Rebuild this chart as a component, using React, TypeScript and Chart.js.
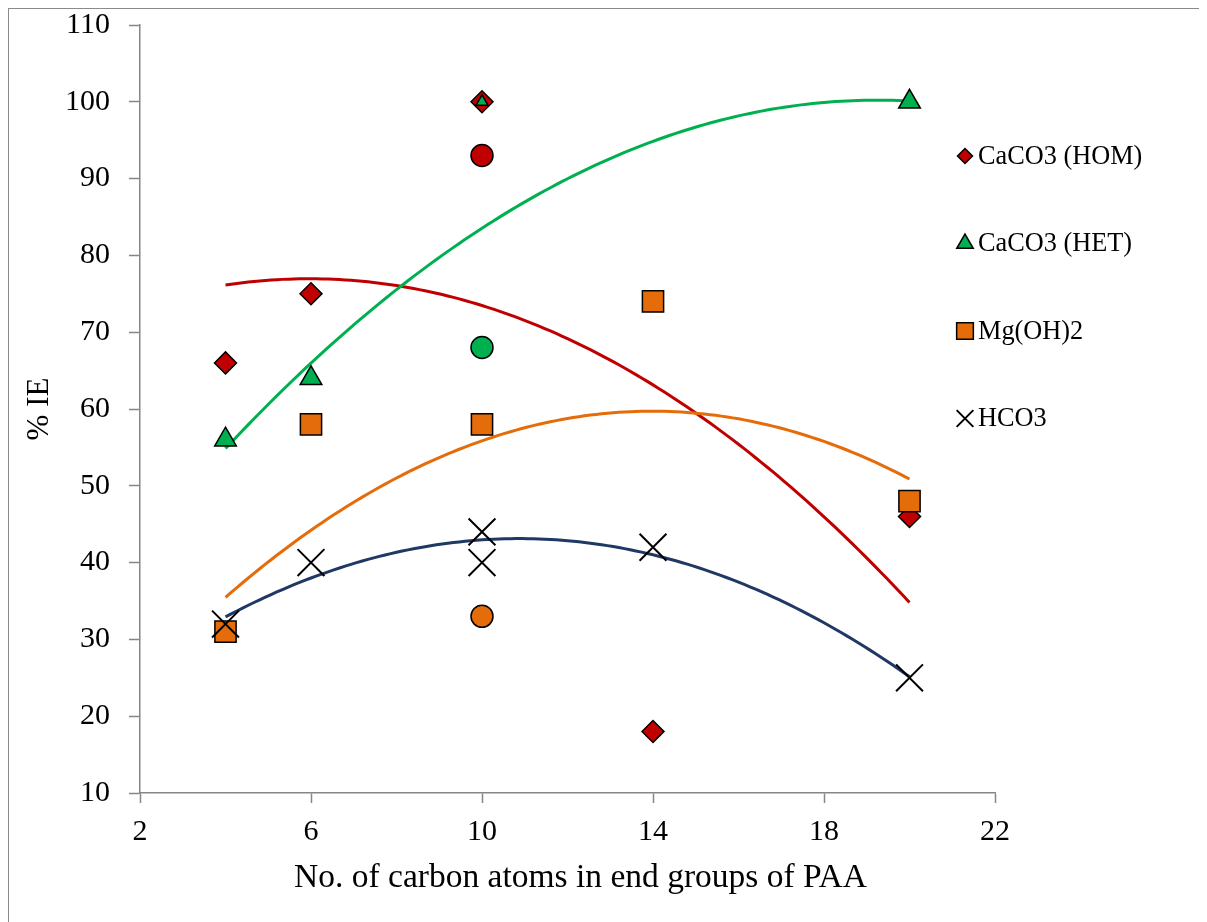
import React, { useEffect, useRef } from 'react';
import { Chart, registerables } from 'chart.js';
import { drawPoint } from 'chart.js/helpers';

Chart.register(...registerables);

// ---------- data ----------
const seriesNames = ['CaCO3 (HOM)', 'CaCO3 (HET)', 'Mg(OH)2', 'HCO3'];

const carbonHOM = [4, 6, 10, 10, 14, 20];
const ieHOM = [66, 75, 100, 93, 18, 46];

const carbonHET = [4, 6, 10, 10, 20];
const ieHET = [56, 64, 100, 68, 100];

const carbonMg = [4, 6, 10, 10, 14, 20];
const ieMg = [31, 58, 58, 33, 74, 48];

const carbonHCO3 = [4, 6, 10, 10, 14, 20];
const ieHCO3 = [32, 40, 44, 40, 42, 25];

const xAxisRange = [2, 22];
const xAxisStep = 4;
const yAxisRange = [10, 110];
const yAxisStep = 10;

const xTitle = 'No. of carbon atoms in end groups of PAA';
const yTitle = '% IE';

// ---------- styles ----------
const FONT = '"Liberation Serif", "Times New Roman", serif';
const AXIS = '#868686';
const RED = '#C00000';
const GREEN = '#00B050';
const ORANGE = '#E46C0A';
const NAVY = '#1F3864';

// least-squares quadratic (Excel polynomial trendline, order 2)
function quadFit(xs: number[], ys: number[]) {
  const S = [0, 0, 0, 0, 0];
  const T = [0, 0, 0];
  for (let i = 0; i < xs.length; i++) {
    let p = 1;
    for (let k = 0; k < 5; k++) {
      S[k] += p;
      if (k < 3) T[k] += p * ys[i];
      p *= xs[i];
    }
  }
  const M = [
    [S[0], S[1], S[2], T[0]],
    [S[1], S[2], S[3], T[1]],
    [S[2], S[3], S[4], T[2]],
  ];
  for (let c = 0; c < 3; c++) {
    for (let r = c + 1; r < 3; r++) {
      const f = M[r][c] / M[c][c];
      for (let k = c; k < 4; k++) M[r][k] -= f * M[c][k];
    }
  }
  const a = [0, 0, 0];
  for (let r = 2; r >= 0; r--) {
    let s = M[r][3];
    for (let k = r + 1; k < 3; k++) s -= M[r][k] * a[k];
    a[r] = s / M[r][r];
  }
  return a;
}

function trend(xs: number[], ys: number[]) {
  const [c0, c1, c2] = quadFit(xs, ys);
  const lo = Math.min(...xs);
  const hi = Math.max(...xs);
  const n = 120;
  const pts = [];
  for (let i = 0; i <= n; i++) {
    const x = lo + ((hi - lo) * i) / n;
    pts.push({ x, y: c0 + c1 * x + c2 * x * x });
  }
  return pts;
}

const toPts = (xs: number[], ys: number[]) => xs.map((x, i) => ({ x, y: ys[i] }));

const legendItems = [
  { style: 'rectRot', r: 7.5, fill: RED, stroke: '#000', lw: 1.5 },
  { style: 'triangle', r: 9.5, fill: GREEN, stroke: '#000', lw: 1.5 },
  { style: 'rect', r: 11.8, fill: ORANGE, stroke: '#000', lw: 1.5 },
  { style: 'crossRot', r: 11.8, fill: '#000', stroke: '#000', lw: 2 },
];

const sideLegend = {
  id: 'sideLegend',
  afterDraw(chart: any) {
    const { ctx, chartArea } = chart;
    ctx.save();
    legendItems.forEach((it, i) => {
      const x = chartArea.right - 30;
      const y = chartArea.top + 131 + i * 87.5;
      ctx.fillStyle = it.fill;
      ctx.strokeStyle = it.stroke;
      ctx.lineWidth = it.lw;
      drawPoint(ctx, { pointStyle: it.style, radius: it.r, rotation: 0, borderWidth: it.lw } as any, x, y);
      ctx.fillStyle = '#000';
      ctx.font = '26.3px ' + FONT;
      ctx.textBaseline = 'middle';
      ctx.textAlign = 'left';
      ctx.fillText(seriesNames[i], x + 13, y + 1);
    });
    // x-axis title (Excel places it slightly right of the plot centre)
    ctx.fillStyle = '#000';
    ctx.font = '33.5px ' + FONT;
    ctx.textAlign = 'center';
    ctx.textBaseline = 'alphabetic';
    ctx.fillText(xTitle, (chartArea.left + chartArea.right) / 2 + 13, chartArea.bottom + 94);
    ctx.restore();
  },
};

export default function App() {
  const ref = useRef<HTMLCanvasElement | null>(null);

  useEffect(() => {
    if (!ref.current) return;
    const markerBase = { borderColor: '#000', borderWidth: 1.5, showLine: false };
    const chart = new Chart(ref.current, {
      type: 'scatter',
      data: {
        datasets: [
          // markers (lower order is drawn on top)
          {
            ...markerBase,
            label: seriesNames[3],
            data: toPts(carbonHCO3, ieHCO3),
            pointStyle: 'crossRot',
            pointRadius: 19,
            borderColor: '#000',
            borderWidth: 2,
            backgroundColor: '#000',
            order: 0,
          },
          {
            ...markerBase,
            label: seriesNames[2],
            data: toPts(carbonMg, ieMg),
            pointStyle: carbonMg.map((_, i) => (i === 3 ? 'circle' : 'rect')),
            pointRadius: carbonMg.map((_, i) => (i === 3 ? 11 : 15)),
            backgroundColor: ORANGE,
            order: 1,
          },
          {
            ...markerBase,
            label: seriesNames[1],
            data: toPts(carbonHET, ieHET),
            pointStyle: carbonHET.map((_, i) => (i === 3 ? 'circle' : 'triangle')),
            pointRadius: carbonHET.map((_, i) => (i === 3 ? 11 : i === 2 ? 7 : 12.5)),
            backgroundColor: GREEN,
            order: 2,
          },
          {
            ...markerBase,
            label: seriesNames[0],
            data: toPts(carbonHOM, ieHOM),
            pointStyle: carbonHOM.map((_, i) => (i === 3 ? 'circle' : 'rectRot')),
            pointRadius: 11,
            backgroundColor: RED,
            order: 3,
          },
          // trendlines
          {
            label: 'trend HCO3',
            data: trend(carbonHCO3, ieHCO3),
            showLine: true,
            pointRadius: 0,
            borderColor: NAVY,
            borderWidth: 3,
            order: 10,
          },
          {
            label: 'trend Mg',
            data: trend(carbonMg, ieMg),
            showLine: true,
            pointRadius: 0,
            borderColor: ORANGE,
            borderWidth: 3,
            order: 11,
          },
          {
            label: 'trend HET',
            data: trend(carbonHET, ieHET),
            showLine: true,
            pointRadius: 0,
            borderColor: GREEN,
            borderWidth: 3,
            order: 12,
          },
          {
            label: 'trend HOM',
            data: trend(carbonHOM, ieHOM),
            showLine: true,
            pointRadius: 0,
            borderColor: RED,
            borderWidth: 3,
            order: 13,
          },
        ],
      },
      options: {
        responsive: false,
        animation: false,
        layout: { autoPadding: false, padding: { left: 0, top: 16, right: 212, bottom: 0 } },
        plugins: {
          legend: { display: false },
          tooltip: { enabled: false },
        },
        scales: {
          x: {
            type: 'linear',
            min: xAxisRange[0],
            max: xAxisRange[1],
            afterFit: (s: any) => {
              s.height = 129;
              s.paddingLeft = 0;
              s.paddingRight = 0;
            },
            ticks: {
              stepSize: xAxisStep,
              color: '#000',
              padding: 14,
              font: { family: FONT, size: 30, lineHeight: 1 },
              maxRotation: 0,
            },
            grid: {
              display: true,
              drawOnChartArea: false,
              drawTicks: true,
              tickLength: 10,
              color: AXIS,
              tickColor: AXIS,
              tickWidth: 1.5,
            },
            border: { display: true, color: AXIS, width: 1.5 },
            title: { display: false },
          },
          y: {
            type: 'linear',
            min: yAxisRange[0],
            max: yAxisRange[1],
            afterFit: (s: any) => {
              s.width = 131;
              s.paddingTop = 0;
              s.paddingBottom = 0;
            },
            ticks: {
              stepSize: yAxisStep,
              color: '#000',
              padding: 19,
              font: { family: FONT, size: 30, lineHeight: 1 },
            },
            grid: {
              display: true,
              drawOnChartArea: false,
              drawTicks: true,
              tickLength: 11,
              color: AXIS,
              tickColor: AXIS,
              tickWidth: 1.5,
            },
            border: { display: true, color: AXIS, width: 1.5 },
            title: {
              display: true,
              text: yTitle,
              color: '#000',
              font: { family: FONT, size: 31, lineHeight: 1 },
              padding: { top: 15, bottom: 0 },
            },
          },
        },
      },
      plugins: [sideLegend],
    } as any);
    return () => chart.destroy();
  }, []);

  return (
    <div
      style={{
        marginLeft: -1,
        marginTop: -1,
        width: 1200,
        height: 915,
        borderLeft: '2px solid #8a8a8a',
        borderTop: '2px solid #8a8a8a',
        background: '#fff',
        overflow: 'hidden',
      }}
    >
      <canvas ref={ref} width={1198} height={913} style={{ display: 'block' }} />
    </div>
  );
}
